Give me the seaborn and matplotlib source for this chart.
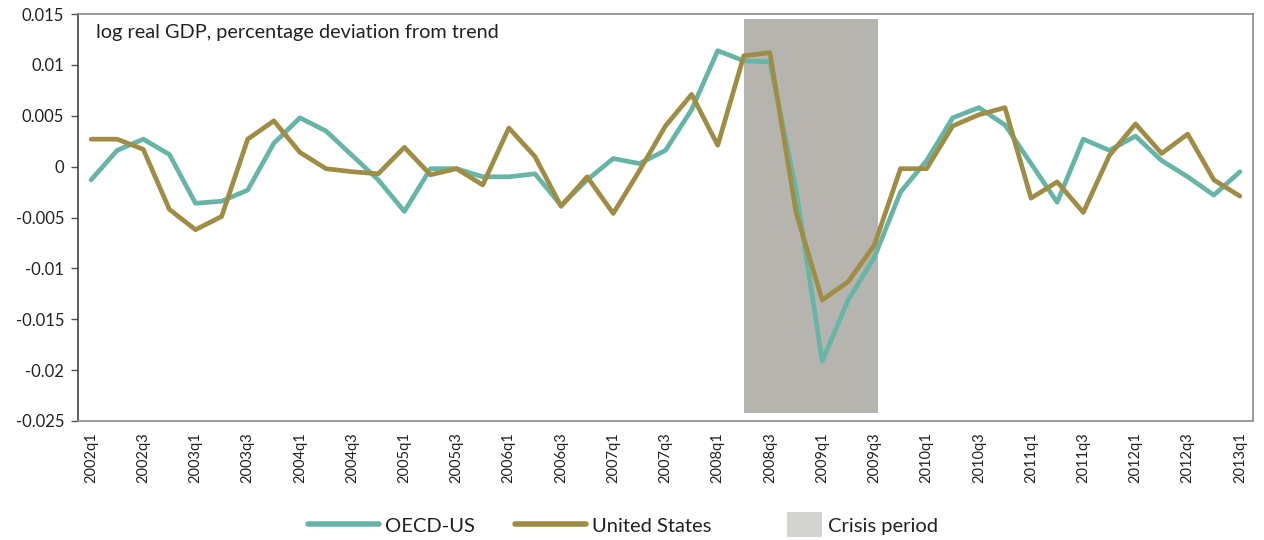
import numpy as np
import pandas as pd
import matplotlib
matplotlib.use('Agg')
import matplotlib.pyplot as plt
import matplotlib.patches as mpatches
from matplotlib.lines import Line2D
from matplotlib.legend_handler import HandlerPatch
from matplotlib.ticker import FuncFormatter
import seaborn as sns


# quarters 2002q1 .. 2013q1
quarters = [f'{y}q{q}' for y in range(2002, 2014) for q in range(1, 5)][:45]

oecd_us = [
    -0.0013, 0.0016, 0.0027, 0.0012, -0.0036, -0.0034, -0.0023, 0.0023, 0.0048, 0.0035,
    0.0011, -0.0013, -0.0044, -0.0002, -0.0002, -0.0010, -0.0010, -0.0007, -0.0038, -0.0013,
    0.0008, 0.0003, 0.0016, 0.0056, 0.0114, 0.0104, 0.0103, -0.0023, -0.0191, -0.0131,
    -0.0089, -0.0025, 0.0006, 0.0048, 0.0058, 0.0041, 0.0003, -0.0035, 0.0027, 0.0016,
    0.0030, 0.0006, -0.0010, -0.0028, -0.0005,
]

united_states = [
    0.0027, 0.0027, 0.0017, -0.0042, -0.0062, -0.0049, 0.0027, 0.0045, 0.0014, -0.0002,
    -0.0005, -0.0007, 0.0019, -0.0008, -0.0002, -0.0018, 0.0038, 0.0010, -0.0039, -0.0010,
    -0.0046, -0.0004, 0.0040, 0.0071, 0.0021, 0.0109, 0.0112, -0.0045, -0.0131, -0.0113,
    -0.0077, -0.0002, -0.0002, 0.0040, 0.0051, 0.0058, -0.0031, -0.0015, -0.0045, 0.0011,
    0.0042, 0.0013, 0.0032, -0.0013, -0.0029,
]

crisis_start = '2008q2'
crisis_end = '2009q3'

tick_labels = quarters[::2]
y_ticks = [0.015, 0.01, 0.005, 0, -0.005, -0.01, -0.015, -0.02, -0.025]

TEAL = '#67b5a6'
GOLD = '#a08d45'
SHADE = '#b6b4af'
SHADE_LEGEND = '#d3d3cf'

df = pd.DataFrame({
    'pos': np.arange(len(quarters)),
    'quarter': quarters,
    'OECD-US': oecd_us,
    'United States': united_states,
})
long_df = df.melt(id_vars=['pos', 'quarter'], var_name='series', value_name='value')

sns.set_style('white')
plt.rcParams['font.family'] = ['Lato', 'DejaVu Sans']

fig = plt.figure(figsize=(12.64, 5.40), dpi=100)
ax = fig.add_axes([0.0617, 0.2204, 0.9296, 0.7536])

# crisis shading
x0 = quarters.index(crisis_start)
x1 = quarters.index(crisis_end) + 0.15
ax.axvspan(x0, x1, ymin=0.02, ymax=0.988, color=SHADE, lw=0, zorder=0)

sns.lineplot(data=long_df, x='pos', y='value', hue='series',
             hue_order=['OECD-US', 'United States'],
             palette={'OECD-US': TEAL, 'United States': GOLD},
             linewidth=3.4, legend=False, ax=ax, zorder=3)

ax.set_xlim(-0.5, len(quarters) - 0.5)
ax.set_ylim(-0.025, 0.015)
ax.set_xlabel('')
ax.set_ylabel('')

ax.set_xticks(np.arange(0, len(quarters), 2))
ax.set_xticklabels(tick_labels, rotation=90, fontsize=10.5, color='#222222')
ax.set_yticks(y_ticks)
ax.yaxis.set_major_formatter(FuncFormatter(lambda v, p: f'{v:g}'))
ax.tick_params(axis='y', direction='out', length=5, width=1, color='#555555',
               labelsize=12, labelcolor='#222222', pad=5, left=True)
ax.tick_params(axis='x', length=0, pad=8)

for side in ['top', 'right', 'bottom']:
    ax.spines[side].set_color('#8a8a8a')
    ax.spines[side].set_linewidth(1.2)
ax.spines['left'].set_color('#444444')
ax.spines['left'].set_linewidth(1.2)

ax.text(0.015, 0.975, 'log real GDP, percentage deviation from trend',
        transform=ax.transAxes, ha='left', va='top', fontsize=14.3, color='#222222')


def square_handle(legend, orig_handle, xdescent, ydescent, width, height, fontsize):
    w = height * 2.5
    h = height * 1.8
    return mpatches.Rectangle((width - w - xdescent, -ydescent + (height - h) / 2), w, h)


handles = [
    Line2D([], [], color=TEAL, lw=4, solid_capstyle='round'),
    Line2D([], [], color=GOLD, lw=4, solid_capstyle='round'),
    mpatches.Patch(color=SHADE_LEGEND, lw=0),
]
labels = ['OECD-US', 'United States', 'Crisis period']
fig.legend(handles, labels, loc='center', bbox_to_anchor=(0.493, 0.026), ncol=3,
           frameon=False, fontsize=14.5, handlelength=3.5, handletextpad=0.3,
           columnspacing=2.0, labelcolor='#222222',
           handler_map={mpatches.Patch: HandlerPatch(patch_func=square_handle)})

fig.savefig('out.png', dpi=100)
